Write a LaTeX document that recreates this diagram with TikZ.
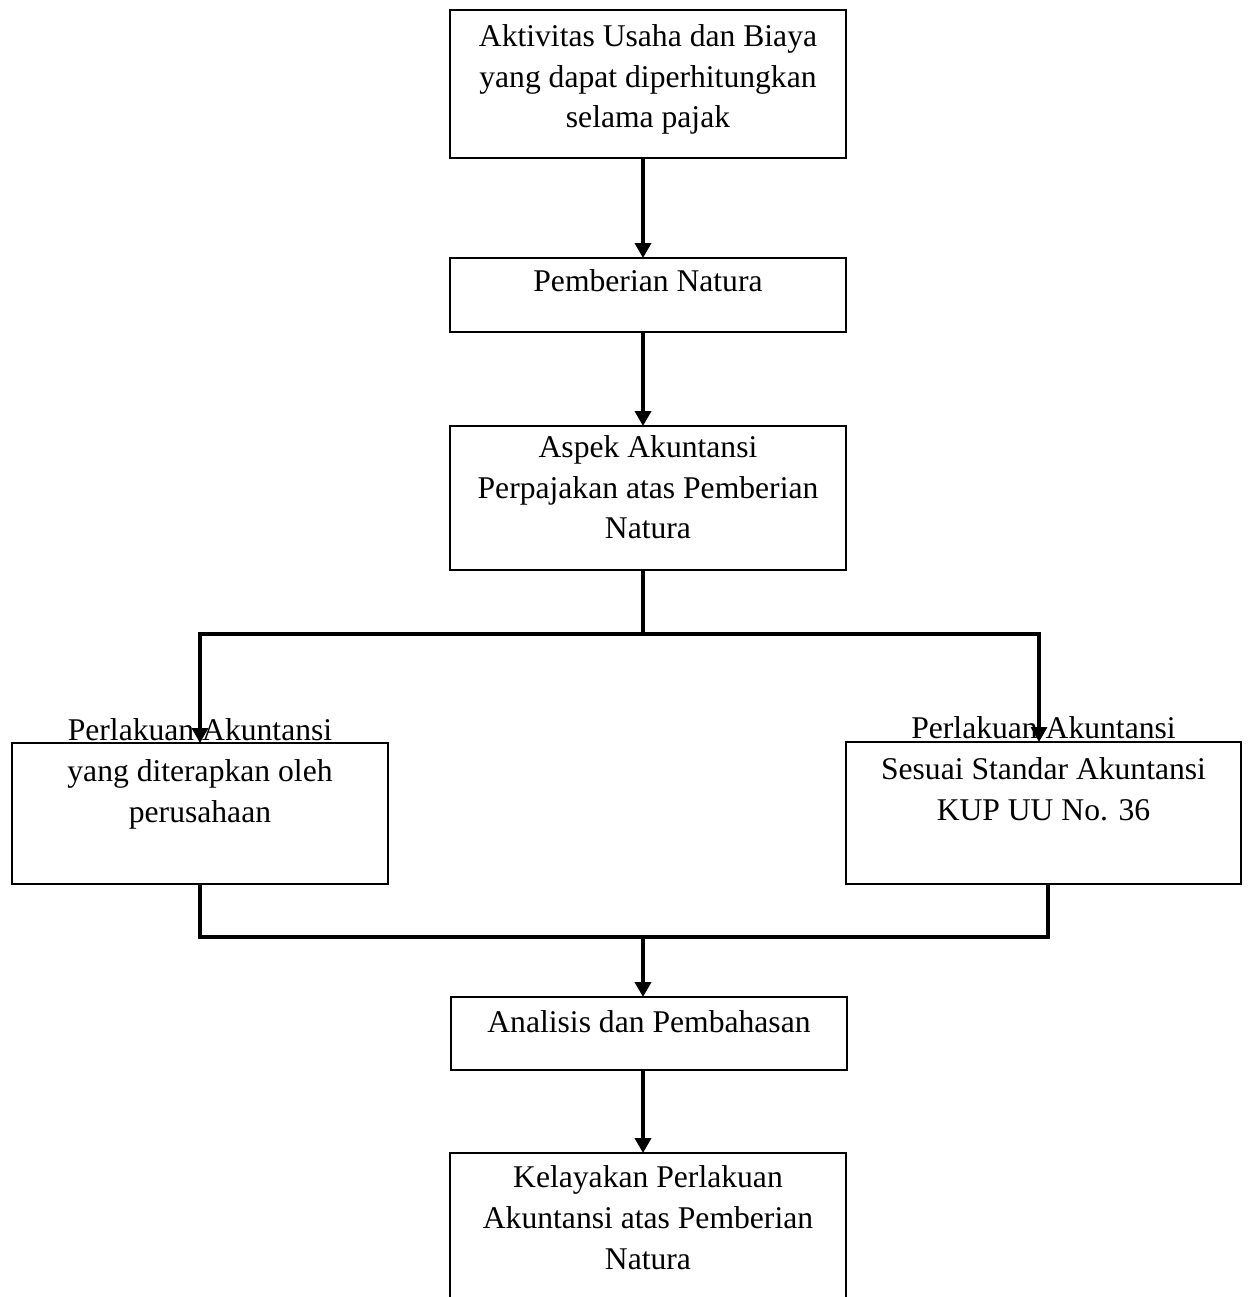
\documentclass[tikz,border=0pt]{standalone}
\usepackage{fontspec}
\setmainfont{Liberation Serif}
\usepackage{tikz}
\usetikzlibrary{arrows.meta, positioning}

\tikzset{
  box/.style={draw, line width=0.8pt, inner sep=0pt, outer sep=0pt,
              minimum width=7.92cm},
  txt/.style={font=\fontsize{18}{23.25}\selectfont, align=center,
              anchor=base, inner sep=0pt},
  link/.style={line width=2.3pt},
  branch/.style={line width=1.9pt},
  arr/.style={-{Triangle[width=0.32cm, length=0.3cm]}}
}

\begin{document}
\begin{tikzpicture}[x=0.02cm, y=-0.02cm]
  \useasboundingbox (0,0) rectangle (1248,1297);

  % Boxes
  \node[box, minimum height=2.96cm] (aktivitas) at (648,84) {};
  \node[box, minimum height=1.48cm] (natura) at (648,295) {};
  \node[box, minimum height=2.88cm] (aspek) at (648,498) {};
  \node[box, minimum width=7.52cm, minimum height=2.82cm]
    (perusahaan) at (200,813.5) {};
  \node[box, minimum width=7.90cm, minimum height=2.84cm]
    (standar) at (1043.5,813) {};
  \node[box, minimum height=1.46cm] (analisis) at (649,1033.5) {};
  \node[box, minimum height=4cm] (kelayakan) at (648,1253) {};

  % Texts (base = last line)
  \node[txt] (aktivitas-txt) at ([yshift=-2.36cm]aktivitas.north)
    {Aktivitas Usaha dan Biaya\\yang dapat diperhitungkan\\selama pajak};
  \node[txt] (natura-txt) at ([yshift=-0.68cm]natura.north)
    {Pemberian Natura};
  \node[txt] (aspek-txt) at ([yshift=-2.26cm]aspek.north)
    {Aspek Akuntansi\\Perpajakan atas Pemberian\\Natura};
  \node[txt] (perusahaan-txt) at ([yshift=-1.58cm]perusahaan.north)
    {Perlakuan Akuntansi\\yang diterapkan oleh\\perusahaan};
  \node[txt] (standar-txt) at ([yshift=-1.56cm]standar.north)
    {Perlakuan Akuntansi\\Sesuai Standar Akuntansi\\KUP UU No. 36};
  \node[txt] (analisis-txt) at ([yshift=-0.70cm]analisis.north)
    {Analisis dan Pembahasan};
  \node[txt] (kelayakan-txt) at ([yshift=-2.32cm]kelayakan.north)
    {Kelayakan Perlakuan\\Akuntansi atas Pemberian\\Natura};

  % Connectors
  \coordinate (spine) at (643,0);
  \coordinate (split) at (643,634);
  \coordinate (join) at (643,937);

  \draw[link, arr] (aktivitas.south -| spine) -- (natura.north -| spine);
  \draw[link, arr] (natura.south -| spine) -- (aspek.north -| spine);
  \draw[link] (aspek.south -| spine) -- (split);
  \draw[branch, arr] (split) -| (perusahaan.north);
  \draw[branch, arr] (split) -| ([xshift=-0.09cm]standar.north);
  \draw[link] (perusahaan.south) |- (join);
  \draw[link] ([xshift=0.09cm]standar.south) |- (join);
  \draw[link, arr] (join) -- (analisis.north -| spine);
  \draw[link, arr] (analisis.south -| spine) -- (kelayakan.north -| spine);
\end{tikzpicture}
\end{document}
